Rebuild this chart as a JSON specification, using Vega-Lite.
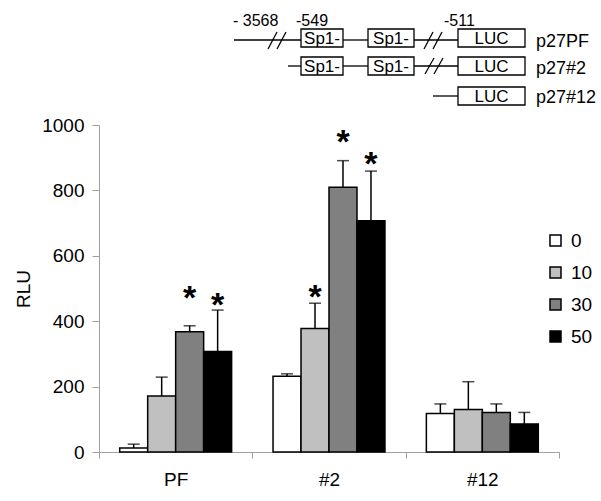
{
  "$schema": "https://vega.github.io/schema/vega-lite/v6.json",
  "padding": {"left": 14, "top": 0, "right": 0, "bottom": 0},
  "autosize": {"type": "pad"},
  "spacing": 20,
  "bounds": "flush",
  "config": {"font": "Liberation Sans", "view": {"stroke": null}},
  "resolve": {"scale": {"x": "independent", "y": "independent", "color": "independent"}, "legend": {"color": "independent"}},
  "vconcat": [
    {
      "width": 502,
      "height": 105,
      "layer": [
        {
          "data": {"values": [
            {"x": 233, "x2": 300, "y": 40, "y2": 40},
            {"x": 342, "x2": 367, "y": 40, "y2": 40},
            {"x": 413, "x2": 457, "y": 40, "y2": 40},
            {"x": 287, "x2": 300, "y": 66, "y2": 66},
            {"x": 342, "x2": 367, "y": 66, "y2": 66},
            {"x": 413, "x2": 457, "y": 66, "y2": 66},
            {"x": 432, "x2": 457, "y": 96, "y2": 96},
            {"x": 267, "x2": 276, "y": 49, "y2": 32},
            {"x": 276, "x2": 285, "y": 49, "y2": 32},
            {"x": 423, "x2": 432, "y": 49, "y2": 32},
            {"x": 432, "x2": 441, "y": 49, "y2": 32},
            {"x": 424, "x2": 433, "y": 74, "y2": 58},
            {"x": 433, "x2": 442, "y": 74, "y2": 58}
          ]},
          "mark": {"type": "rule", "color": "black", "strokeWidth": 1.3},
          "encoding": {
            "x": {"field": "x", "type": "quantitative", "scale": {"domain": [98, 600], "nice": false, "zero": false}, "axis": null},
            "x2": {"field": "x2"},
            "y": {"field": "y", "type": "quantitative", "scale": {"domain": [0, 105], "reverse": true, "nice": false, "zero": false}, "axis": null},
            "y2": {"field": "y2"}
          }
        },
        {
          "data": {"values": [
            {"x": 300, "x2": 342, "y": 29, "y2": 47, "label": "Sp1-"},
            {"x": 367, "x2": 413, "y": 29, "y2": 47, "label": "Sp1-"},
            {"x": 457, "x2": 524, "y": 29, "y2": 47, "label": "LUC"},
            {"x": 300, "x2": 342, "y": 57, "y2": 75, "label": "Sp1-"},
            {"x": 367, "x2": 413, "y": 57, "y2": 75, "label": "Sp1-"},
            {"x": 457, "x2": 524, "y": 57, "y2": 75, "label": "LUC"},
            {"x": 457, "x2": 524, "y": 87, "y2": 105, "label": "LUC"}
          ]},
          "layer": [
            {
              "mark": {"type": "rect", "fill": "white", "stroke": "black", "strokeWidth": 1.3},
              "encoding": {
                "x": {"field": "x", "type": "quantitative"},
                "x2": {"field": "x2"},
                "y": {"field": "y", "type": "quantitative"},
                "y2": {"field": "y2"}
              }
            },
            {
              "transform": [{"calculate": "(datum.x + datum.x2) / 2", "as": "xc"}],
              "mark": {"type": "text", "fontSize": 17, "align": "center", "baseline": "alphabetic", "dy": -3},
              "encoding": {
                "x": {"field": "xc", "type": "quantitative"},
                "y": {"field": "y2", "type": "quantitative"},
                "text": {"field": "label"}
              }
            }
          ]
        },
        {
          "data": {"values": [
            {"x": 535, "y": 47, "label": "p27PF"},
            {"x": 535, "y": 74, "label": "p27#2"},
            {"x": 535, "y": 103, "label": "p27#12"}
          ]},
          "mark": {"type": "text", "fontSize": 18, "align": "left", "baseline": "alphabetic"},
          "encoding": {
            "x": {"field": "x", "type": "quantitative"},
            "y": {"field": "y", "type": "quantitative"},
            "text": {"field": "label"}
          }
        },
        {
          "data": {"values": [
            {"x": 232, "y": 26, "label": "- 3568"},
            {"x": 295, "y": 26, "label": "-549"},
            {"x": 443, "y": 26, "label": "-511"}
          ]},
          "mark": {"type": "text", "fontSize": 16, "align": "left", "baseline": "alphabetic"},
          "encoding": {
            "x": {"field": "x", "type": "quantitative"},
            "y": {"field": "y", "type": "quantitative"},
            "text": {"field": "label"}
          }
        }
      ]
    },
    {
      "width": 460,
      "height": 327,
      "data": {"values": [
        {"group": "PF", "dose": "0", "value": 12, "upper": 24, "star": null},
        {"group": "PF", "dose": "10", "value": 171, "upper": 229, "star": null},
        {"group": "PF", "dose": "30", "value": 368, "upper": 386, "star": 495},
        {"group": "PF", "dose": "50", "value": 307, "upper": 434, "star": 474},
        {"group": "#2", "dose": "0", "value": 232, "upper": 239, "star": null},
        {"group": "#2", "dose": "10", "value": 378, "upper": 455, "star": 498},
        {"group": "#2", "dose": "30", "value": 810, "upper": 891, "star": 972},
        {"group": "#2", "dose": "50", "value": 707, "upper": 859, "star": 906},
        {"group": "#12", "dose": "0", "value": 118, "upper": 147, "star": null},
        {"group": "#12", "dose": "10", "value": 130, "upper": 215, "star": null},
        {"group": "#12", "dose": "30", "value": 121, "upper": 147, "star": null},
        {"group": "#12", "dose": "50", "value": 86, "upper": 121, "star": null}
      ]},
      "encoding": {
        "x": {
          "field": "group", "type": "nominal", "sort": ["PF", "#2", "#12"],
          "scale": {"paddingInner": 0, "paddingOuter": 0},
          "axis": {"title": null, "labelAngle": 0, "tickBand": "extent", "tickSize": 6, "domainColor": "#a0a0a0", "tickColor": "#a0a0a0", "labelFontSize": 19, "labelColor": "black", "labelPadding": 12}
        },
        "xOffset": {"field": "dose", "type": "nominal", "sort": ["0", "10", "30", "50"], "scale": {"paddingInner": 0, "paddingOuter": 0.74}}
      },
      "layer": [
        {
          "mark": {"type": "bar", "stroke": "black", "strokeWidth": 1.5},
          "encoding": {
            "y": {
              "field": "value", "type": "quantitative",
              "scale": {"domain": [0, 1000], "nice": false},
              "axis": {"values": [0, 200, 400, 600, 800, 1000], "format": "d", "grid": false, "domainColor": "#a0a0a0", "tickColor": "#a0a0a0", "tickSize": 7, "labelFontSize": 19, "labelColor": "black", "labelPadding": 8, "title": "RLU", "titleFontSize": 19, "titleFontWeight": "normal", "titleColor": "black", "titlePadding": 8}
            },
            "fill": {
              "field": "dose", "type": "nominal", "sort": ["0", "10", "30", "50"],
              "scale": {"domain": ["0", "10", "30", "50"], "range": ["#ffffff", "#c0c0c0", "#808080", "#000000"]},
              "legend": {"title": null, "orient": "none", "legendX": 447, "legendY": 231, "padding": 0, "symbolType": "square", "symbolSize": 121, "symbolStrokeColor": "black", "symbolStrokeWidth": 1.5, "labelFontSize": 19, "labelColor": "black", "labelOffset": 6, "rowPadding": 12}
            }
          }
        },
        {
          "mark": {"type": "rule", "color": "black", "strokeWidth": 1.5},
          "encoding": {
            "y": {"field": "value", "type": "quantitative"},
            "y2": {"field": "upper"}
          }
        },
        {
          "mark": {"type": "tick", "color": "black", "thickness": 1.5, "size": 12},
          "encoding": {
            "y": {"field": "upper", "type": "quantitative"}
          }
        },
        {
          "transform": [{"filter": "datum.star != null"}],
          "mark": {"type": "text", "text": "*", "fontSize": 34, "fontWeight": "bold", "baseline": "alphabetic", "align": "center", "dy": 19},
          "encoding": {
            "y": {"field": "star", "type": "quantitative"}
          }
        }
      ]
    }
  ]
}
